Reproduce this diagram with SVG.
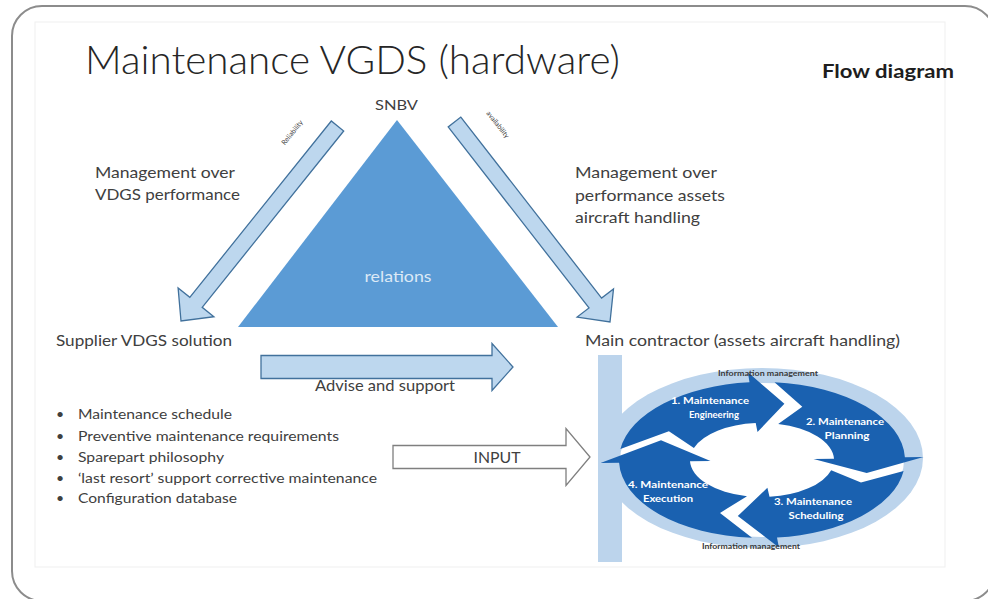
<svg xmlns="http://www.w3.org/2000/svg" width="988" height="599" viewBox="0 0 988 599">
  <style>
    text { font-family: Lato, "Liberation Sans", sans-serif; fill: #404040; }
    .title { font-size: 40px; font-weight: 300; fill: #262626; }
    .head { font-size: 19px; font-weight: 700; fill: #1e1e1e; }
    .lbl { font-size: 16px; }
    .bul { font-size: 14px; }
    .tiny { font-size: 7px; font-weight: 700; text-anchor: middle; fill: #3a3a3a; }
    .mid { text-anchor: middle; }
    .seg { fill: #1a61b0; }
    .segtxt { font-size: 9.5px; font-weight: 700; fill: #ffffff; text-anchor: middle; }
    .fat { fill: #bdd7ee; stroke: #41719c; stroke-width: 1.3; stroke-linejoin: miter; }
    .hollow { fill: #ffffff; stroke: #7f7f7f; stroke-width: 1.3; }
    .pale { fill: #bcd4ec; }
  </style>

  <!-- page and slide frame -->
  <rect x="0" y="0" width="988" height="599" fill="#ffffff"/>
  <rect x="12" y="6" width="983" height="595" rx="30" fill="none" stroke="#8c8c8c" stroke-width="2"/>
  <rect x="35" y="22" width="910" height="545" fill="none" stroke="#efefef" stroke-width="1"/>

  <g id="title">
    <text class="title" x="85" y="74" textLength="535" lengthAdjust="spacingAndGlyphs">Maintenance VGDS (hardware)</text>
  </g>
  <g id="flow-label">
    <text class="head" x="822" y="78" textLength="132" lengthAdjust="spacingAndGlyphs">Flow diagram</text>
  </g>

  <!-- SNBV with the relations triangle -->
  <g id="snbv">
    <text class="mid" x="396.5" y="110" font-size="14" textLength="43" lengthAdjust="spacingAndGlyphs">SNBV</text>
    <polygon points="397,120 238,327 558,327" fill="#5b9bd5"/>
    <text class="mid" x="398" y="282" font-size="16" style="fill:#dce9f6" textLength="67" lengthAdjust="spacingAndGlyphs">relations</text>
  </g>

  <g id="supplier">
    <text class="lbl" x="56" y="346" textLength="176" lengthAdjust="spacingAndGlyphs">Supplier VDGS solution</text>
  </g>

  <g id="main-contractor">
    <text class="lbl" x="585" y="346" textLength="315" lengthAdjust="spacingAndGlyphs">Main contractor (assets aircraft handling)</text>
  </g>

  <g id="note-left">
    <text class="lbl" x="95" y="178" textLength="140" lengthAdjust="spacingAndGlyphs">Management over</text>
    <text class="lbl" x="95" y="200" textLength="145" lengthAdjust="spacingAndGlyphs">VDGS performance</text>
  </g>

  <g id="note-right">
    <text class="lbl" x="575" y="178" textLength="142" lengthAdjust="spacingAndGlyphs">Management over</text>
    <text class="lbl" x="575" y="201" textLength="150" lengthAdjust="spacingAndGlyphs">performance assets</text>
    <text class="lbl" x="575" y="223" textLength="125" lengthAdjust="spacingAndGlyphs">aircraft handling</text>
  </g>

  <g id="supplier-items">
    <g class="bul">
      <text x="56" y="419">•</text>
      <text x="56" y="441">•</text>
      <text x="56" y="462">•</text>
      <text x="56" y="483">•</text>
      <text x="56" y="503">•</text>
      <text x="78" y="419" textLength="154" lengthAdjust="spacingAndGlyphs">Maintenance schedule</text>
      <text x="78" y="441" textLength="261" lengthAdjust="spacingAndGlyphs">Preventive maintenance requirements</text>
      <text x="78" y="462" textLength="146" lengthAdjust="spacingAndGlyphs">Sparepart philosophy</text>
      <text x="78" y="483" textLength="299" lengthAdjust="spacingAndGlyphs">‘last resort’ support corrective maintenance</text>
      <text x="78" y="503" textLength="159" lengthAdjust="spacingAndGlyphs">Configuration database</text>
    </g>
  </g>

  <!-- maintenance cycle: four curved arrows on a pale ellipse -->
  <g id="maintenance-cycle">
    <ellipse class="pale" cx="762" cy="458" rx="161" ry="90"/>
    <rect class="pale" x="598" y="355" width="24" height="207"/>
    <ellipse cx="762" cy="460" rx="142" ry="77" fill="#ffffff"/>
    <!-- 1. engineering: left to top -->
    <path class="seg" d="M620.4,449.1 A143,78 0 0 1 749.5,382.3 L747.9,372.3 L784.4,403.8 L757.5,432.1 L755.7,423.1 A72,37 0 0 0 693.9,448.0 L668.9,431.3 Z"/>
    <!-- 2. planning: top to right -->
    <path class="seg" d="M774.5,382.3 A143,78 0 0 1 904.9,457.3 L923.5,456.9 L866.7,472.9 L813.5,459.0 L834.0,458.7 A72,37 0 0 0 778.2,424.0 L802.3,406.7 Z"/>
    <!-- 3. scheduling: right to bottom -->
    <path class="seg" d="M903.6,470.9 A143,78 0 0 1 777.0,537.6 L778.9,547.5 L737.8,516.0 L767.4,487.8 L769.5,496.8 A72,37 0 0 0 831.2,470.2 L861.0,482.5 Z"/>
    <!-- 4. execution: bottom to left -->
    <path class="seg" d="M752.0,537.8 A143,78 0 0 1 619.1,462.7 L600.5,463.1 L661.0,440.3 L710.5,461.0 L690.0,461.3 A72,37 0 0 0 747.0,496.2 L720.0,512.9 Z"/>

    <text class="segtxt" x="710" y="404" textLength="78" lengthAdjust="spacingAndGlyphs">1. Maintenance</text>
    <text class="segtxt" x="714" y="418" textLength="50" lengthAdjust="spacingAndGlyphs">Engineering</text>
    <text class="segtxt" x="845" y="425" textLength="78" lengthAdjust="spacingAndGlyphs">2. Maintenance</text>
    <text class="segtxt" x="847" y="439" textLength="45" lengthAdjust="spacingAndGlyphs">Planning</text>
    <text class="segtxt" x="813" y="505" textLength="78" lengthAdjust="spacingAndGlyphs">3. Maintenance</text>
    <text class="segtxt" x="816" y="519" textLength="55" lengthAdjust="spacingAndGlyphs">Scheduling</text>
    <text class="segtxt" x="668" y="488" textLength="80" lengthAdjust="spacingAndGlyphs">4. Maintenance</text>
    <text class="segtxt" x="668" y="502" textLength="50" lengthAdjust="spacingAndGlyphs">Execution</text>

    <text class="tiny" x="768" y="376" textLength="100" lengthAdjust="spacingAndGlyphs">Information management</text>
    <text class="tiny" x="751" y="549" textLength="98" lengthAdjust="spacingAndGlyphs">Information management</text>
  </g>

  <!-- connectors -->
  <g id="connectors">
    <polygon class="fat" points="343.7,131 202.2,307.3 213.9,316.7 181,321 178.1,287.9 189.8,297.3 331.3,121"/>
    <text x="0" y="0" font-size="7" class="mid" transform="translate(294,134) rotate(-51)">Reliability</text>

    <polygon class="fat" points="460.8,117.1 601.6,298.1 613.5,288.9 610,322 577.1,317.1 589.0,307.9 448.2,126.9"/>
    <text x="0" y="0" font-size="7" class="mid" transform="translate(496,126) rotate(52)">availability</text>

    <polygon class="fat" points="261,355.5 492,355.5 492,343.5 513,367 492,390.5 492,378.5 261,378.5"/>
    <text class="lbl mid" x="385" y="391" textLength="140" lengthAdjust="spacingAndGlyphs">Advise and support</text>

    <polygon class="hollow" points="393,445.5 566,445.5 566,428.5 590,457 566,485.5 566,468.5 393,468.5"/>
    <text class="mid" x="497" y="463" font-size="15" textLength="47" lengthAdjust="spacingAndGlyphs">INPUT</text>
  </g>
</svg>
